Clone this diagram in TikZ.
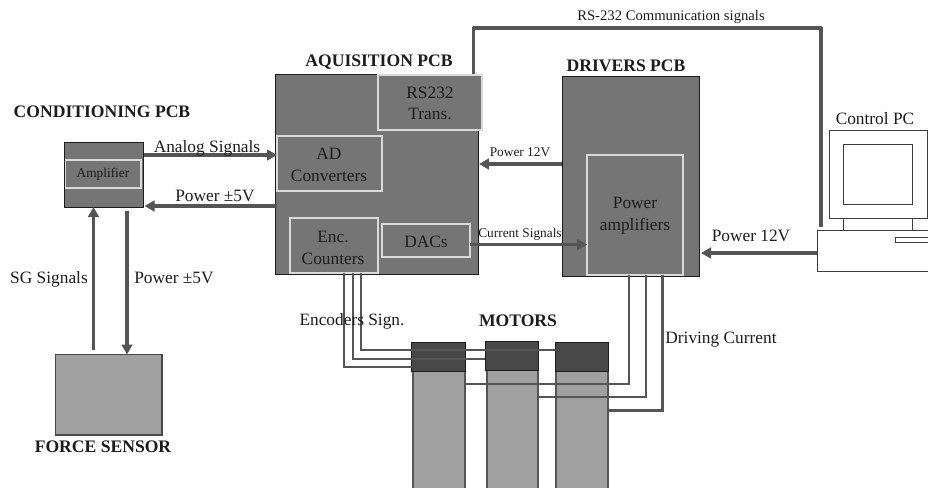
\documentclass[tikz,border=0pt]{standalone}
\usepackage{fontspec}
\setmainfont{Liberation Serif}
\usetikzlibrary{arrows.meta,calc}
\definecolor{pcb}{HTML}{757575}
\definecolor{lite}{HTML}{A0A0A0}
\definecolor{head}{HTML}{484848}
\definecolor{wire}{HTML}{555555}
\definecolor{ink}{HTML}{1C1C1C}
\definecolor{inner}{HTML}{DADADA}
\newcommand{\pxbox}[6]{\node[#6,minimum width={(#4-#2)*0.75pt},minimum height={(#5-#3)*0.75pt}] (#1) at ({(#2+#4)/2},{(#3+#5)/2}) {};}
\tikzset{
  x=0.75pt,y=-0.75pt,
  every node/.style={inner sep=0pt,outer sep=0pt,text=ink,font=\fontsize{13}{16.3}\selectfont,align=center},
  pcbbox/.style={draw=ink,fill=pcb,line width=0.7pt},
  subbox/.style={draw=inner,fill=pcb,line width=0.8pt},
  litebox/.style={draw=ink!80,fill=lite,line width=0.8pt},
  bodybox/.style={draw=wire,fill=lite,line width=1pt},
  headbox/.style={draw=ink,fill=head,line width=0.7pt},
  pcpart/.style={draw=ink!85,fill=white,line width=0.7pt},
  arr/.style={draw=wire,line width=2.3pt,-{Triangle[length=7.5pt,width=8pt]}},
  wirethick/.style={draw=wire,line width=2.3pt},
  wirethin/.style={draw=wire,line width=1.5pt},
  wiredrive/.style={draw=wire,line width=2.1pt},
  small/.style={font=\fontsize{10}{12}\selectfont},
  title/.style={font=\bfseries\fontsize{13.2}{15}\selectfont},
}
\begin{document}
\begin{tikzpicture}
\useasboundingbox (0,0) rectangle (928,488);
\pxbox{bodyA}{413}{371}{465}{490}{bodybox}
\pxbox{bodyB}{487}{370}{538}{490}{bodybox}
\pxbox{bodyC}{556}{371}{608}{490}{bodybox}
\pxbox{headA}{411.5}{342.5}{465}{371}{headbox}
\pxbox{headB}{485}{341.5}{538.5}{370}{headbox}
\pxbox{headC}{555.5}{342.5}{608.5}{371}{headbox}
\pxbox{cond}{64}{142}{143.5}{207}{pcbbox}
\pxbox{amp}{65.5}{160}{141}{188}{subbox}
\pxbox{force}{55.5}{354.5}{162}{435}{litebox}
\pxbox{acq}{275}{74}{478}{274}{pcbbox}
\pxbox{rs}{378}{75}{482}{130}{subbox}
\pxbox{ad}{277}{136}{382}{191}{subbox}
\pxbox{enc}{290}{218}{378}{273}{subbox}
\pxbox{dac}{382}{224}{470}{257}{subbox}
\pxbox{drv}{562}{76}{699}{276}{pcbbox}
\pxbox{pamp}{587}{155}{683}{275}{subbox}
\pxbox{mon}{829}{130}{927}{218}{pcpart}
\pxbox{scr}{843}{144}{912}{204}{pcpart}
\pxbox{base}{817}{230}{940}{271}{pcpart}
\pxbox{slot}{895}{237}{940}{242}{pcpart}
% monitor neck
\draw[draw=ink!85,line width=0.7pt] (scr.west |- mon.south) -- (scr.west |- base.north);
\draw[draw=ink!85,line width=0.7pt] (scr.east |- mon.south) -- (scr.east |- base.north);
% named free ends
\coordinate (rsTop) at (473.5,28);
\coordinate (pcTop) at (821,28);
\coordinate (pcEnd) at (821,227);
% RS-232
\draw[wirethick,line join=round] (rsTop |- acq.north) -- (rsTop) -- (pcTop) -- (pcEnd);
% arrows
\draw[arr] ($(cond.north east)+(0,13)$) -- ($(ad.north west)+(0,19)$);
\draw[arr] ($(acq.south west)+(2,-68)$) -- ($(cond.south east)+(1,-1)$);
\coordinate (sgEnd) at (93.5,350);
\coordinate (pwEnd) at (127,211);
\draw[arr] (sgEnd) -- (sgEnd |- cond.south);
\draw[arr] (pwEnd) -- (pwEnd |- force.north);
\draw[arr] ($(drv.north west)+(0,88)$) -- ($(acq.north east)+(1,90)$);
\draw[arr] (dac.east) ++(0,4) coordinate (dacOut) -- (dacOut -| pamp.west);
\draw[arr] ($(base.north west)+(0,23)$) -- ($(drv.south east)+(2,-23)$);
% encoder wires
\coordinate (e1) at (344,367);
\coordinate (e2) at (352.5,358.5);
\coordinate (e3) at (361,350);
\draw[wirethin] (e1 |- enc.south) -- (e1) -- (e1 -| headA.west);
\draw[wirethin] (e2 |- enc.south) -- (e2) -- (e2 -| headB.west);
\draw[wirethin] (e3 |- enc.south) -- (e3) -- (e3 -| headC.west);
% driving wires
\coordinate (d1) at (629,384);
\coordinate (d2) at (646,397);
\coordinate (d3) at (662.5,410.5);
\draw[wiredrive] (d1 |- pamp.south) -- (d1) -- (d1 -| bodyA.east);
\draw[wiredrive] (d2 |- pamp.south) -- (d2) -- (d2 -| bodyB.east);
\draw[wiredrive] (d3 |- pamp.south) -- (d3) -- (d3 -| bodyC.east);
% labels
\node[title] (tCond) at (102,112) {CONDITIONING PCB};
\node[title] (tAcq) at (379,62) {AQUISITION PCB};
\node[title] (tDrv) at (626,66) {DRIVERS PCB};
\node[title] (tMot) at (518,321) {MOTORS};
\node[title] (tFor) at (103,447) {FORCE SENSOR};
\node[small] (tAmp) at (103,174.5) {Amplifier};
\node (tRs) at (430,103.5) {RS232\\Trans.};
\node (tAd) at (329,164.5) {AD\\Converters};
\node (tEnc) at (333,248) {Enc.\\Counters};
\node (tDac) at (426,241.5) {DACs};
\node (tPamp) at (635,215.5) {Power\\amplifiers};
\node (lAna) at (207,148) {Analog Signals};
\node (lPw1) at (215,196) {Power ±5V};
\node (lSg) at (49,279) {SG Signals};
\node (lPw2) at (174,278) {Power ±5V};
\node[small] (lPw3) at (520,152) {Power 12V};
\node[small] (lCur) at (520,234) {Current Signals};
\node (lPw4) at (751,236) {Power 12V};
\node[font=\fontsize{11}{13}\selectfont] (lRs) at (671,17) {RS-232 Communication signals};
\node (lPc) at (875,119) {Control PC};
\node (lEnc) at (352,321) {Encoders Sign.};
\node (lDrv) at (721,340) {Driving Current};
\end{tikzpicture}
\end{document}
